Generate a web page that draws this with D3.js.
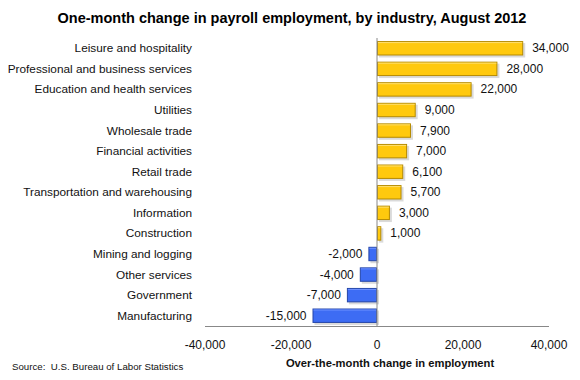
<!DOCTYPE html>
<html><head><meta charset="utf-8">
<script src="https://cdn.jsdelivr.net/npm/d3@7"></script>
<style>body{margin:0;background:#fff}svg{display:block}text{font-family:"Liberation Sans",Arial,sans-serif}</style>
</head><body><svg id="c" width="580" height="380"></svg>
<script>
const categories = ["Leisure and hospitality","Professional and business services","Education and health services","Utilities","Wholesale trade","Financial activities","Retail trade","Transportation and warehousing","Information","Construction","Mining and logging","Other services","Government","Manufacturing"];
const values = [34000,28000,22000,9000,7900,7000,6100,5700,3000,1000,-2000,-4000,-7000,-15000];
const xTicks = [-40000,-20000,0,20000,40000];

const svg = d3.select("#c");
const x = d3.scaleLinear().domain([-40000,40000]).range([205,549]);
const y = d3.scaleBand().domain(categories).range([38,326]).paddingInner(0.3).paddingOuter(0.15);
const fmt = v => d3.format(",")(v).replace("\u2212","-");

svg.append("text").attr("x",292).attr("y",23).attr("text-anchor","middle")
  .attr("font-size",14.5).attr("font-weight","bold").text("One-month change in payroll employment, by industry, August 2012");

svg.append("g").selectAll("text").data(categories).join("text")
  .attr("x",192).attr("y",d=>y(d)+y.bandwidth()/2+4).attr("text-anchor","end")
  .attr("font-size",11.8).attr("fill","#111").text(d=>d);

const data = categories.map((c,i)=>({c,v:values[i]}));
const g = svg.append("g");
g.selectAll("rect.sh").data(data).join("rect").attr("class","sh")
  .attr("x",d=>Math.min(x(0),x(d.v))+2).attr("y",d=>y(d.c)+2)
  .attr("width",d=>Math.abs(x(d.v)-x(0))).attr("height",y.bandwidth())
  .attr("fill","#bbb").attr("opacity",0.55);
g.selectAll("rect.b").data(data).join("rect").attr("class","b")
  .attr("x",d=>Math.min(x(0),x(d.v))+0.5).attr("y",d=>y(d.c)+0.5)
  .attr("width",d=>Math.max(0,Math.abs(x(d.v)-x(0))-1)).attr("height",y.bandwidth()-1)
  .attr("fill",d=>d.v>=0?"#FFC90E":"#3D6CF4")
  .attr("stroke",d=>d.v>=0?"#B58A00":"#2445A8").attr("stroke-width",1);
g.selectAll("line.hl").data(data).join("line").attr("class","hl")
  .attr("x1",d=>Math.min(x(0),x(d.v))+1).attr("x2",d=>Math.max(x(0),x(d.v))-1)
  .attr("y1",d=>y(d.c)+1.5).attr("y2",d=>y(d.c)+1.5)
  .attr("stroke",d=>d.v>=0?"#FFE070":"#6F92FF").attr("stroke-width",1);

svg.append("g").selectAll("text").data(data).join("text")
  .attr("x",d=>d.v>=0?x(d.v)+9:x(d.v)-6)
  .attr("y",d=>y(d.c)+y.bandwidth()/2+4)
  .attr("text-anchor",d=>d.v>=0?"start":"end")
  .attr("font-size",12).attr("fill","#111").text(d=>fmt(d.v));

svg.append("line").attr("x1",x(0)).attr("x2",x(0)).attr("y1",38).attr("y2",326).attr("stroke","#888");
svg.append("line").attr("x1",x(-40000)).attr("x2",x(40000)).attr("y1",326.5).attr("y2",326.5).attr("stroke","#888");

svg.append("g").selectAll("text").data(xTicks).join("text")
  .attr("x",d=>x(d)).attr("y",349).attr("text-anchor","middle")
  .attr("font-size",12).attr("fill","#111").text(d=>fmt(d));

svg.append("text").attr("x",390).attr("y",367).attr("text-anchor","middle")
  .attr("font-size",11.2).attr("font-weight","bold").attr("fill","#111").text("Over-the-month change in employment");
svg.append("text").attr("x",12).attr("y",370).attr("font-size",9.7).attr("fill","#111")
  .attr("xml:space","preserve").text("Source:  U.S. Bureau of Labor Statistics");
</script></body></html>
